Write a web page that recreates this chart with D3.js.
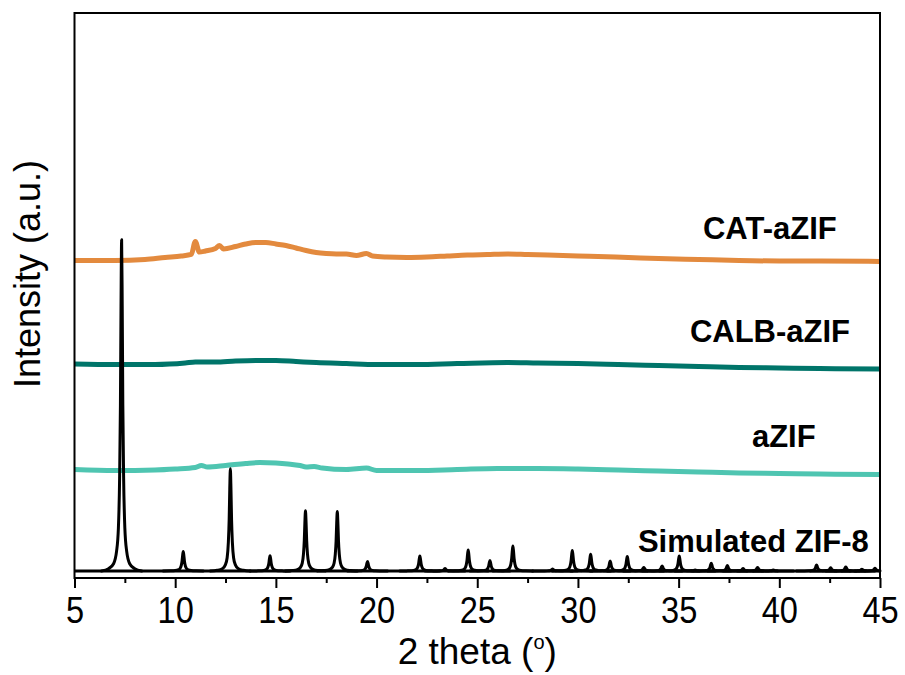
<!DOCTYPE html>
<html>
<head>
<meta charset="utf-8">
<script src="https://cdn.jsdelivr.net/npm/d3@7"></script>
<style>
  body { margin: 0; background: #fff; }
  svg text { font-family: "Liberation Sans", Arial, sans-serif; }
</style>
</head>
<body>
<svg id="chart" width="905" height="675"></svg>
<script>
// ---- data (2θ in degrees, intensity in stacked arbitrary units) ----
const xTickValues = [5, 10, 15, 20, 25, 30, 35, 40, 45];
const xMinorTickValues = [7.5, 12.5, 17.5, 22.5, 27.5, 32.5, 37.5, 42.5];

const catTheta = [5, 7, 8.5, 9.5, 10.3, 10.8, 11.0, 11.2, 11.5, 12.0, 12.2, 12.4, 13.0, 13.5, 14.0, 14.5, 15.0, 15.5, 16.0, 16.5, 17.0, 17.5, 18.0, 18.5, 19.0, 19.5, 19.8, 20.5, 21.5, 22.5, 23.5, 24.5, 25.5, 26.5, 27.5, 28.5, 30, 31, 32.5, 34, 36, 38, 40, 42, 45];
const catIntensity = [56.19, 56.19, 56.37, 56.73, 56.99, 57.26, 59.56, 57.70, 57.88, 58.32, 58.85, 58.23, 58.67, 59.12, 59.38, 59.38, 59.12, 58.85, 58.41, 57.96, 57.61, 57.43, 57.35, 57.35, 57.08, 57.43, 56.99, 56.81, 56.73, 56.81, 56.99, 57.17, 57.26, 57.35, 57.26, 57.17, 56.99, 56.90, 56.73, 56.55, 56.37, 56.19, 56.11, 56.11, 56.02];

const calbTheta = [5, 7, 9, 10.5, 11, 12, 13, 14, 15, 16, 17, 18.5, 20, 22, 24, 26.5, 28, 30, 32, 34, 36, 38, 40, 42, 45];
const calbIntensity = [37.88, 37.79, 37.79, 38.05, 38.23, 38.23, 38.41, 38.50, 38.50, 38.32, 38.14, 37.96, 37.79, 37.79, 37.96, 38.14, 38.05, 37.96, 37.79, 37.61, 37.43, 37.26, 37.17, 37.08, 36.99];

const azifTheta = [5, 7, 9, 10, 11, 11.3, 11.6, 12.5, 13.5, 14.2, 15, 15.6, 16.2, 16.5, 16.9, 17.3, 18.5, 19.5, 20, 22, 24, 26, 28, 30, 32, 34, 36, 38, 40, 42, 45];
const azifIntensity = [19.20, 19.03, 19.12, 19.29, 19.56, 19.91, 19.65, 19.91, 20.27, 20.44, 20.35, 20.18, 19.91, 19.65, 19.73, 19.47, 19.20, 19.47, 19.03, 19.03, 19.20, 19.38, 19.38, 19.29, 19.12, 18.94, 18.76, 18.58, 18.50, 18.41, 18.32];

// simulated ZIF-8 reflections: position and height above the baseline
const zifBaseline = 1.24;
const zifPeakTheta = [7.34, 10.40, 12.74, 14.71, 16.47, 18.05, 19.55, 22.15, 23.40, 24.55, 25.63, 26.77, 28.74, 29.72, 30.63, 31.60, 32.45, 33.27, 34.18, 35.03, 35.82, 36.62, 37.42, 38.20, 38.92, 39.70, 41.85, 42.55, 43.30, 44.10, 44.75];
const zifPeakHeight = [58.62, 3.45, 18.09, 2.69, 10.65, 10.53, 1.68, 2.65, 0.44, 3.72, 1.86, 4.42, 0.35, 3.63, 2.95, 1.77, 2.57, 0.62, 0.88, 2.65, 0.18, 1.38, 0.97, 0.44, 0.62, 0.18, 1.06, 0.57, 0.71, 0.32, 0.49];

const seriesNames = ["CAT-aZIF", "CALB-aZIF", "aZIF", "Simulated ZIF-8"];
// label anchor (2θ, intensity) for each series name
const labelTheta = [36.21, 35.56, 38.64, 32.98];
const labelIntensity = [60.0, 41.77, 23.19, 4.60];

// ---- styling ----
const colors = ["#E38A3E", "#00756A", "#4FC5B1", "#000000"];
// normalised line shape of a single simulated reflection (offset in 2θ, fraction of height)
const peakProfile = [[0, 1], [0.03, 0.8], [0.06, 0.5], [0.1, 0.28], [0.16, 0.13], [0.25, 0.06], [0.4, 0.022], [0.65, 0.007], [1.0, 0]];

const svg = d3.select("#chart");
const plot = { left: 74.5, right: 880, top: 13, bottom: 578 };

const x = d3.scaleLinear().domain([5, 45]).range([plot.left, plot.right]);
const y = d3.scaleLinear().domain([0, 100]).range([plot.bottom, plot.top]);

const line = d3.line()
  .x(d => x(d[0]))
  .y(d => y(d[1]))
  .curve(d3.curveMonotoneX);

const g = svg.append("g");

// amorphous patterns
const amorphous = [
  [catTheta, catIntensity, colors[0]],
  [calbTheta, calbIntensity, colors[1]],
  [azifTheta, azifIntensity, colors[2]]
];
amorphous.forEach(([tt, ii, c]) => {
  g.append("path")
    .datum(tt.map((t, i) => [t, ii[i]]))
    .attr("d", line)
    .attr("fill", "none")
    .attr("stroke", c)
    .attr("stroke-width", 5)
    .attr("stroke-linejoin", "round");
});

// simulated pattern: baseline plus each reflection
g.append("path")
  .datum([[5, zifBaseline], [45, zifBaseline]])
  .attr("d", line)
  .attr("fill", "none")
  .attr("stroke", colors[3])
  .attr("stroke-width", 3);

zifPeakTheta.forEach((p, k) => {
  const h = zifPeakHeight[k];
  const left = peakProfile.slice(1).reverse().map(([o, f]) => [p - o, zifBaseline + h * f]);
  const right = peakProfile.map(([o, f]) => [p + o, zifBaseline + h * f]);
  const pts = left.concat(right).filter(d => d[0] >= 5 && d[0] <= 45);
  g.append("path")
    .datum(pts)
    .attr("d", line)
    .attr("fill", "none")
    .attr("stroke", colors[3])
    .attr("stroke-width", 3)
    .attr("stroke-linejoin", "round")
    .attr("stroke-linecap", "round");
});

// frame
svg.append("rect")
  .attr("x", plot.left).attr("y", plot.top)
  .attr("width", plot.right - plot.left)
  .attr("height", plot.bottom - plot.top)
  .attr("fill", "none")
  .attr("stroke", "#000")
  .attr("stroke-width", 2);

// bottom axis
const xAxis = svg.append("g")
  .attr("transform", `translate(0,${plot.bottom})`)
  .call(d3.axisBottom(x).tickValues(xTickValues).tickSize(10).tickPadding(9).tickFormat(d3.format("d")));
xAxis.select(".domain").remove();
xAxis.selectAll(".tick line").attr("stroke-width", 2);
xAxis.selectAll(".tick text")
  .attr("font-size", 37)
  .attr("fill", "#000")
  .attr("transform", "scale(0.88,1)")
  .style("font-family", "'Liberation Sans', Arial, sans-serif");

const xMinor = svg.append("g")
  .attr("transform", `translate(0,${plot.bottom})`)
  .call(d3.axisBottom(x).tickValues(xMinorTickValues).tickSize(5).tickFormat(""));
xMinor.select(".domain").remove();
xMinor.selectAll(".tick line").attr("stroke-width", 2);

// axis titles
const xTitle = svg.append("text")
  .attr("x", (plot.left + plot.right) / 2)
  .attr("y", 664)
  .attr("text-anchor", "middle")
  .attr("font-size", 37)
  .attr("fill", "#000");
xTitle.append("tspan").text("2 theta (");
xTitle.append("tspan").text("o").attr("font-size", 20).attr("dy", -15);
xTitle.append("tspan").text(")").attr("dy", 15);

svg.append("text")
  .attr("transform", `translate(40,${274}) rotate(-90)`)
  .attr("text-anchor", "middle")
  .attr("font-size", 36)
  .attr("fill", "#000")
  .text("Intensity (a.u.)");

// series labels
seriesNames.forEach((name, i) => {
  svg.append("text")
    .attr("x", x(labelTheta[i]))
    .attr("y", y(labelIntensity[i]))
    .attr("font-size", 31)
    .attr("font-weight", "bold")
    .attr("fill", "#000")
    .text(name);
});
</script>
</body>
</html>
